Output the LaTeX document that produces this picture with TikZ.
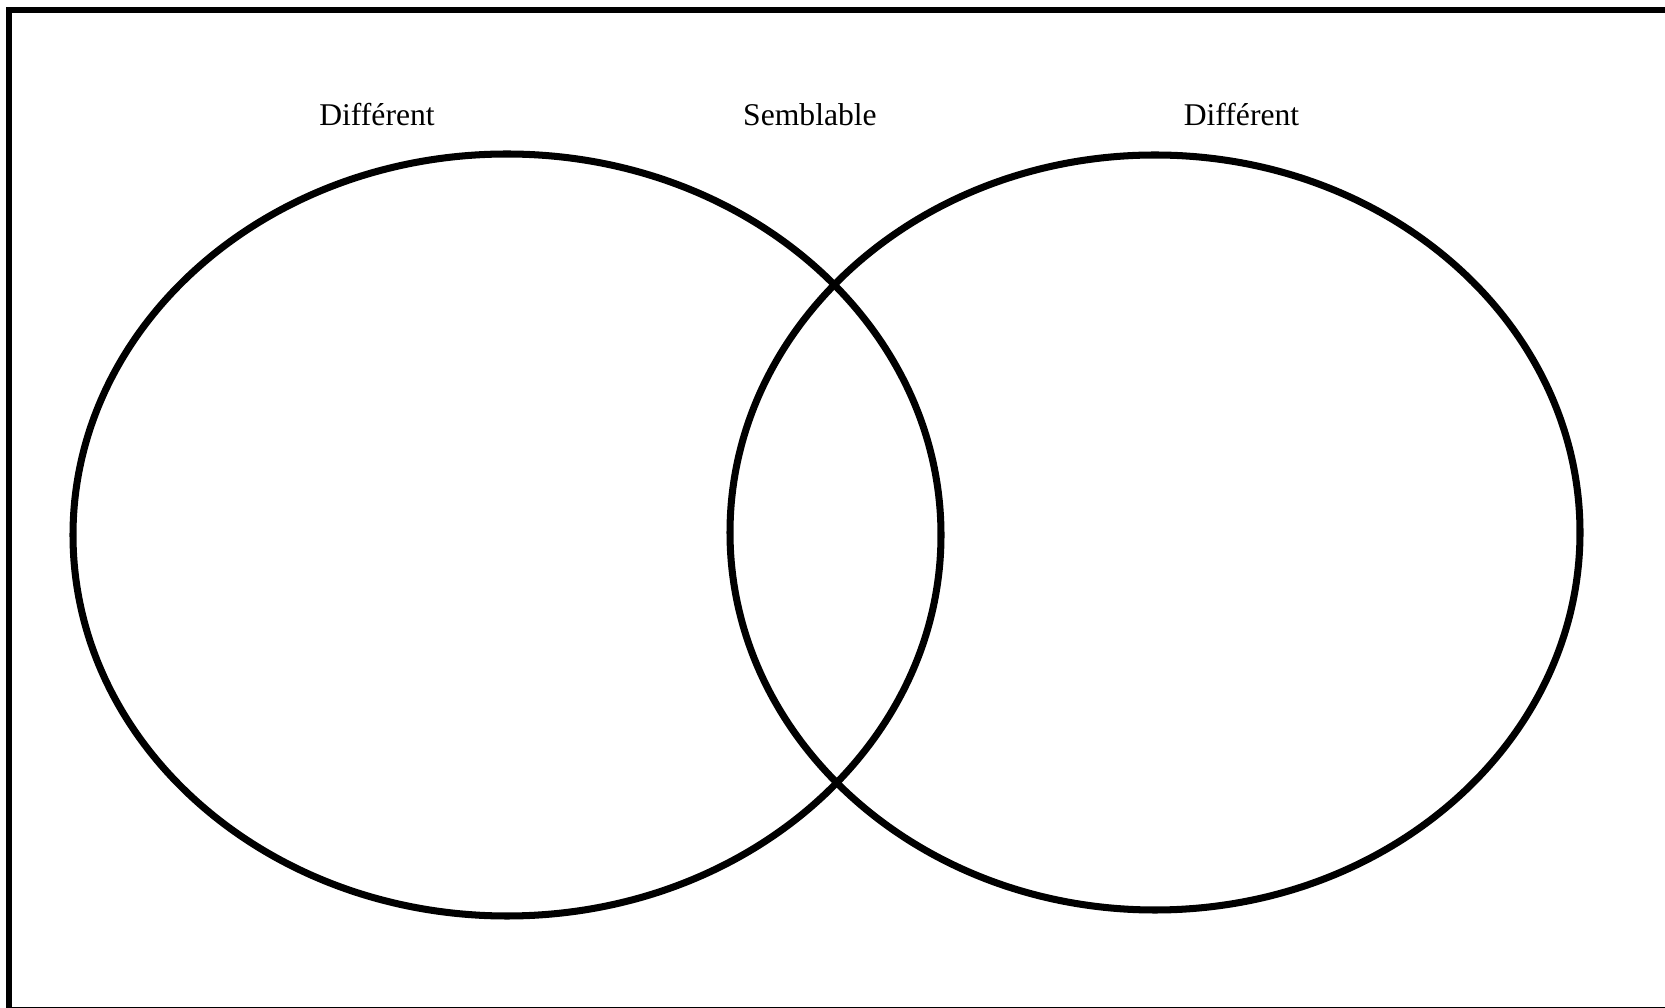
\documentclass[tikz,border=0pt]{standalone}
\usepackage{fontspec}
\setmainfont{Liberation Serif}
\usepackage{tikz}

\begin{document}
\begin{tikzpicture}[cercle/.style={line width=4pt}, titre/.style={font=\fontsize{18}{22}\selectfont}]
	\useasboundingbox (0,0) rectangle (33.3,20.14);
	\clip (0,0) rectangle (33.3,20.14);
	\draw[line width=3.4pt] (0.18,-0.06) rectangle (33.6,19.94);
	\draw[cercle] (10.14,9.44) ellipse (8.68cm and 7.62cm);
	\draw[cercle] (23.1,9.49) ellipse (8.5cm and 7.55cm);
	\node[titre] (diffA) at (7.54,17.85){Différent};
	\node[titre] (sembl) at (16.2,17.85){Semblable};
	\node[titre] (diffB) at (24.83,17.85){Différent};
	\end{tikzpicture}
\end{document}
